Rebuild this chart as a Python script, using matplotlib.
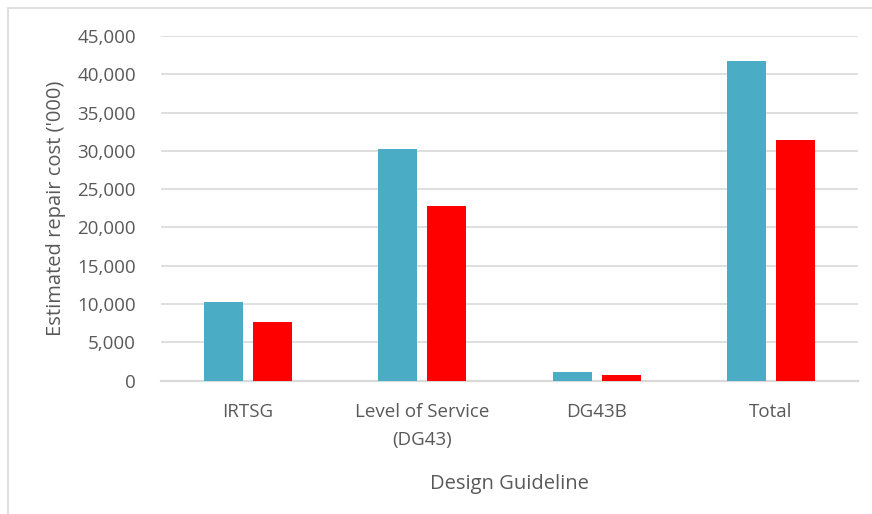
import matplotlib
matplotlib.use("Agg")
import matplotlib.pyplot as plt
from matplotlib.patches import Rectangle
from matplotlib.ticker import FuncFormatter, MultipleLocator
import numpy as np

categories = ["IRTSG", "Level of Service\n(DG43)", "DG43B", "Total"]
series_a = [10250, 30240, 1150, 41770]
series_b = [7680, 22830, 720, 31410]
colors = ["#4BACC6", "#FF0000"]

plt.rcParams["font.family"] = ["Open Sans", "DejaVu Sans"]
text_color = "#595959"
grid_color = "#D9D9D9"

fig = plt.figure(figsize=(8.72, 5.14), dpi=100)
ax = fig.add_axes([161 / 872, 1 - 380.5 / 514, (858 - 161) / 872, (380.5 - 36) / 514])

# chart-area border
fig.patches.append(Rectangle((7.5 / 872, -0.1), 1.2, 1.1 - 8.5 / 514,
                             transform=fig.transFigure, fill=False,
                             edgecolor=grid_color, linewidth=1.2))

x = np.arange(len(categories))
width = 0.224
offset = 0.1406
ax.bar(x - offset, series_a, width, color=colors[0], zorder=3)
ax.bar(x + offset, series_b, width, color=colors[1], zorder=3)

ax.set_xlim(-0.5, len(categories) - 0.5)
ax.set_ylim(0, 45000)
ax.yaxis.set_major_locator(MultipleLocator(5000))
ax.yaxis.set_major_formatter(FuncFormatter(lambda v, p: f"{int(v):,}"))
ax.grid(axis="y", color=grid_color, linewidth=1.2, zorder=0)
ax.set_axisbelow(True)

for s in ["top", "right", "left"]:
    ax.spines[s].set_visible(False)
ax.spines["bottom"].set_color(grid_color)
ax.spines["bottom"].set_linewidth(1.6)

ax.set_xticks(x)
ax.set_xticklabels(categories, linespacing=1.75)
ax.tick_params(axis="both", length=0, labelsize=13.5, colors=text_color)
ax.tick_params(axis="y", pad=18)
ax.tick_params(axis="x", pad=16)

ax.set_ylabel("Estimated repair cost ('000)", fontsize=14.5, color=text_color, labelpad=8)
ax.set_xlabel("Design Guideline", fontsize=14.5, color=text_color, labelpad=18)

fig.savefig("out.png", dpi=100)
